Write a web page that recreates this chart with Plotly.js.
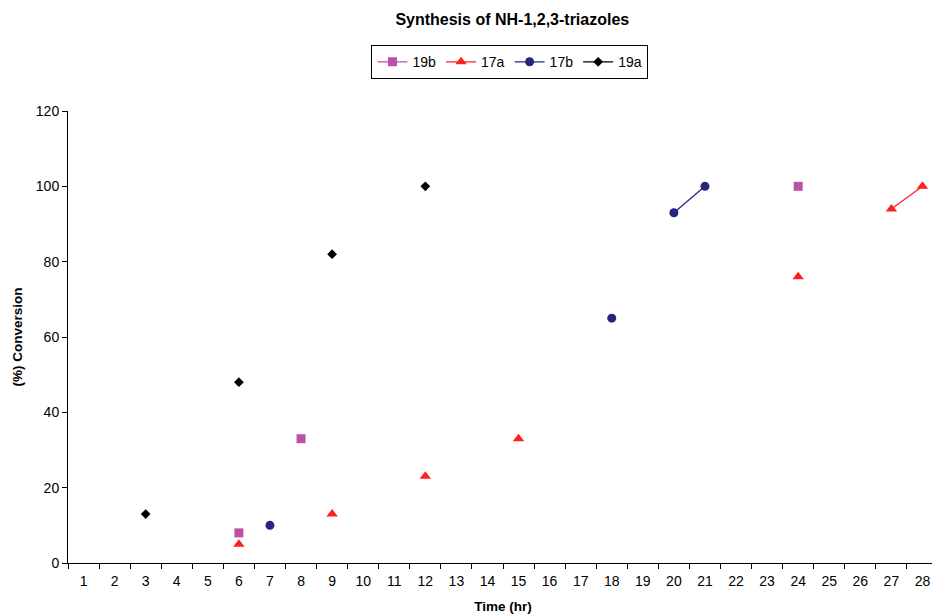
<!DOCTYPE html>
<html>
<head>
<meta charset="utf-8">
<script src="https://cdn.plot.ly/plotly-3.0.1.min.js"></script>
<style>
html,body{margin:0;padding:0;overflow:hidden;background:#fff;}
#chart{width:940px;height:616px;}
</style>
</head>
<body>
<div id="chart"></div>
<script>
const categories = ["1","2","3","4","5","6","7","8","9","10","11","12","13","14","15","16","17","18","19","20","21","22","23","24","25","26","27","28"];
// values per category (null = no measurement)
const s19b = [null,null,null,null,null,8,null,33,null,null,null,null,null,null,null,null,null,null,null,null,null,null,null,100,null,null,null,null];
const s17a = [null,null,null,null,null,5,null,null,13,null,null,23,null,null,33,null,null,null,null,null,null,null,null,76,null,null,94,100];
const s17b = [null,null,null,null,null,null,10,null,null,null,null,null,null,null,null,null,null,65,null,93,100,null,null,null,null,null,null,null];
const s19a = [null,null,13,null,null,48,null,null,82,null,null,100,null,null,null,null,null,null,null,null,null,null,null,null,null,null,null,null];
const yTicks = [0,20,40,60,80,100,120];

const font = {family: "Liberation Sans, Arial, sans-serif", color: "#000"};

function tr(name, y, color, symbol, size) {
  return {
    type: "scatter", mode: "lines+markers", name: name,
    x: categories, y: y, connectgaps: false,
    line: {color: color, width: 1.3},
    marker: {color: color, symbol: symbol, size: size}
  };
}

const data = [
  tr("19b", s19b, "#BF4FA6", "square", 9),
  tr("17a", s17a, "#FF2020", "triangle-up", 10),
  tr("17b", s17b, "#262680", "circle", 9),
  tr("19a", s19a, "#000000", "diamond", 7.5)
];

const layout = {
  width: 940, height: 616,
  margin: {l: 68, r: 2, t: 111, b: 53},
  paper_bgcolor: "#fff", plot_bgcolor: "#fff",
  font: Object.assign({size: 14}, font),
  title: {text: "<b>Synthesis of NH-1,2,3-triazoles</b>", x: 0.545, xanchor: "center", y: 0.969, yanchor: "middle", yref: "container", font: Object.assign({size: 16}, font)},
  showlegend: true,
  legend: {orientation: "h", x: 0.508, xanchor: "center", y: 1.108, yanchor: "middle",
           bordercolor: "#000", borderwidth: 1, font: Object.assign({size: 14}, font),
           itemwidth: 30, tracegroupgap: 0},
  xaxis: {
    type: "category", categoryorder: "array", categoryarray: categories,
    tickson: "boundaries", ticks: "outside", ticklen: 5, tickcolor: "#000", tickwidth: 1,
    showline: true, linecolor: "#000", linewidth: 1, showgrid: false, zeroline: false,
    range: [-0.5, 27.5], ticklabelstandoff: 5,
    tickfont: Object.assign({size: 14}, font),
    title: {text: "<b>Time (hr)</b>", font: Object.assign({size: 13.5}, font), standoff: 13}
  },
  yaxis: {
    range: [0, 120], tickvals: yTicks, ticks: "outside", ticklen: 5, tickcolor: "#000",
    showline: true, linecolor: "#000", linewidth: 1, showgrid: false, zeroline: false,
    tickfont: Object.assign({size: 14}, font),
    title: {text: "<b>(%) Conversion</b>", font: Object.assign({size: 13.5}, font), standoff: 10}
  }
};

Plotly.newPlot("chart", data, layout, {displayModeBar: false, staticPlot: true});
</script>
</body>
</html>
